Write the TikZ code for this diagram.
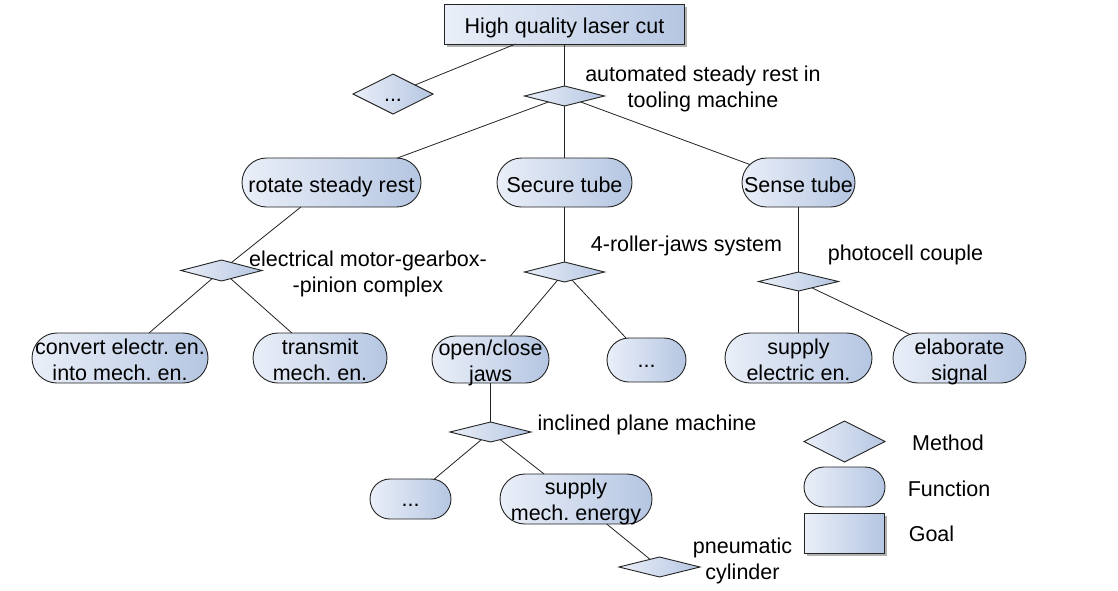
\documentclass[tikz,border=0pt]{standalone}
\usepackage{fontspec}
\setmainfont{Liberation Sans}
\usetikzlibrary{shapes.geometric,shapes.misc,shadows}
\definecolor{shL}{RGB}{234,239,248}
\definecolor{shR}{RGB}{181,198,226}
\definecolor{ln}{RGB}{35,35,35}
\frenchspacing
\newcommand\boxtxt[2][9.8pt]{\makebox[0pt]{\smash{\raisebox{-#1}{\begin{tabular}{@{}c@{}}#2\end{tabular}}}}}
\newcommand\lbltxt[1]{\begin{tabular}{@{}c@{}}#1\end{tabular}}
\begin{document}
\begin{tikzpicture}[x=1pt,y=-1pt,
  every node/.style={font=\fontsize{21.5}{26}\selectfont\frenchspacing, inner sep=0pt, outer sep=0pt},
  shd/.style={left color=shL, right color=shR, draw=ln, line width=0.9pt},
  fnb/.style 2 args={shd, rounded rectangle, minimum width=#1, minimum height=#2},
  mth/.style 2 args={shd, diamond, minimum width=#1, minimum height=#2},
  goalb/.style 2 args={shd, rectangle, minimum width=#1, minimum height=#2,
     drop shadow={shadow xshift=2.5pt, shadow yshift=-2.5pt, fill=black, opacity=0.3}},
  lbl/.style={text=black},
  con/.style={draw=ln, line width=0.8pt}]
\fill[white] (0,0) rectangle (1118,590);
\useasboundingbox (0,0) rectangle (1118,590);

% goal and first method level
\node[goalb={240pt}{40pt}] (g) at (564.5,24) {\boxtxt{High quality laser cut}};
\node[mth={80pt}{40pt}] (d0) at (393,94) {\boxtxt[7pt]{...}};
\node[mth={80pt}{20pt}] (d1) at (564.5,96) {};

% functions level 1
\node[fnb={179pt}{49pt}] (rot) at (331.5,182.5) {\boxtxt{rotate steady rest}};
\node[fnb={135pt}{49pt}] (sec) at (564.5,182.5) {\boxtxt{Secure tube}};
\node[fnb={113pt}{49pt}] (sen) at (798.5,182.5) {\boxtxt{Sense tube}};

% methods level 2
\node[mth={81pt}{21pt}] (d2) at (221.5,270.5) {};
\node[mth={80pt}{20pt}] (d3) at (564.5,272) {};
\node[mth={80pt}{19pt}] (d4) at (798.5,281.5) {};

% functions level 2
\node[fnb={176pt}{50pt}] (conv) at (120,358) {\boxtxt{convert electr. en.\\into mech. en.}};
\node[fnb={134pt}{50pt}] (trans) at (320,358) {\boxtxt{transmit\\mech. en.}};
\node[fnb={117pt}{47pt}] (oc) at (490.5,359.5) {\boxtxt[8.5pt]{open/close\\jaws}};
\node[fnb={79pt}{44pt}] (dots1) at (646.5,360) {\boxtxt[7pt]{...}};
\node[fnb={147pt}{50pt}] (sel) at (798.5,358) {\boxtxt{supply\\electric en.}};
\node[fnb={133pt}{50pt}] (elab) at (959.5,358) {\boxtxt{elaborate\\signal}};

% level 3
\node[mth={81pt}{20pt}] (d5) at (490.5,432) {};
\node[fnb={81pt}{40pt}] (dots2) at (410.5,499) {\boxtxt[7pt]{...}};
\node[fnb={152pt}{50pt}] (smech) at (576,499) {\boxtxt[8.5pt]{supply\\mech. energy}};
\node[mth={81pt}{20pt}] (d6) at (659.5,567) {};

% method labels
\node[lbl] (l1) at (703,89.5) {\lbltxt{automated steady rest in\\tooling machine}};
\node[lbl] (l2) at (368,274.5) {\lbltxt{electrical motor-gearbox-\\-pinion complex}};
\node[lbl] (l3) at (686.5,245.8) {\lbltxt{4-roller-jaws system}};
\node[lbl] (l4) at (905.5,254.8) {\lbltxt{photocell couple}};
\node[lbl] (l5) at (647,425.5) {\lbltxt{inclined plane machine}};
\node[lbl] (l6) at (742.5,561.3) {\lbltxt{pneumatic\\cylinder}};

% connectors
\draw[con] (g) -- (d0);
\draw[con] (g) -- (d1);
\draw[con] (d1) -- (rot);
\draw[con] (d1) -- (sec);
\draw[con] (d1) -- (sen);
\draw[con] (rot) -- (d2);
\draw[con] (d2) -- (conv);
\draw[con] (d2) -- (trans);
\draw[con] (sec) -- (d3);
\draw[con] (d3) -- (oc);
\draw[con] (d3) -- (dots1);
\draw[con] (sen) -- (d4);
\draw[con] (d4) -- (sel);
\draw[con] (d4) -- (elab);
\draw[con] (oc) -- (d5);
\draw[con] (d5) -- (dots2);
\draw[con] (d5) -- (smech);
\draw[con] (smech) -- (d6);

% legend
\node[mth={81pt}{41pt}] (lm) at (844.5,441.5) {};
\node[fnb={81pt}{40pt}] (lf) at (844.5,487) {};
\node[goalb={80pt}{40pt}] (lg) at (844,533) {};
\node[lbl] (tm) at (948,444.8) {\lbltxt{Method}};
\node[lbl] (tf) at (949,491.5) {\lbltxt{Function}};
\node[lbl] (tg) at (931.5,536.5) {\lbltxt{Goal}};
\end{tikzpicture}
\end{document}
